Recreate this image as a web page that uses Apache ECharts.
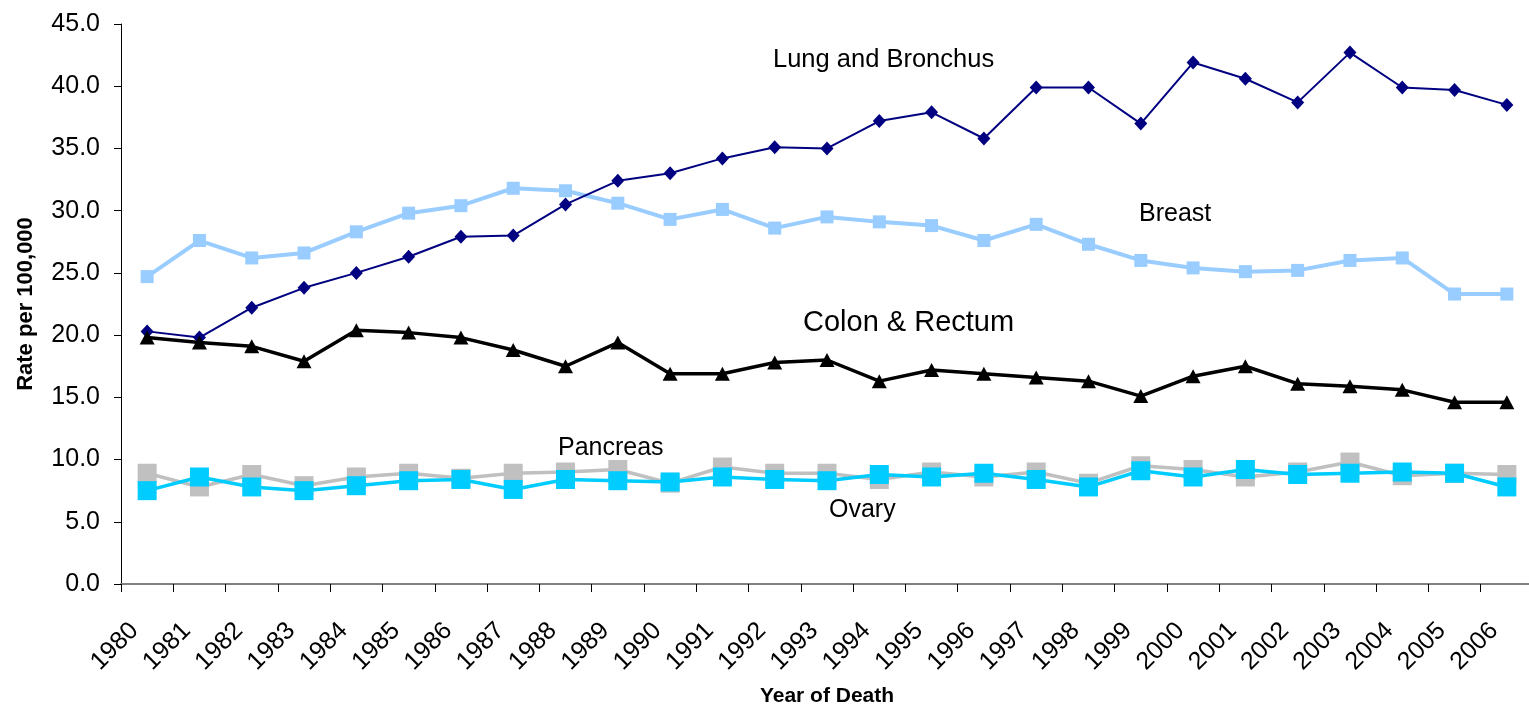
<!DOCTYPE html>
<html>
<head>
<meta charset="utf-8">
<script src="https://cdn.jsdelivr.net/npm/echarts@6/dist/echarts.min.js"></script>
<style>
    html, body { margin: 0; padding: 0; background: #fff; }
    #chart { width: 1529px; height: 706px; }
</style>
</head>
<body>
<div id="chart"></div>
<script>
// data
var years = ['1980', '1981', '1982', '1983', '1984', '1985', '1986', '1987', '1988', '1989',
    '1990', '1991', '1992', '1993', '1994', '1995', '1996', '1997', '1998', '1999',
    '2000', '2001', '2002', '2003', '2004', '2005', '2006'];

var lung = [20.3, 19.8, 22.2, 23.8, 25.0, 26.3, 27.9, 28.0, 30.5, 32.4,
    33.0, 34.2, 35.1, 35.0, 37.2, 37.9, 35.8, 39.9, 39.9, 37.0,
    41.9, 40.6, 38.7, 42.7, 39.9, 39.7, 38.5];

var breast = [24.7, 27.6, 26.2, 26.6, 28.3, 29.8, 30.4, 31.8, 31.6, 30.6,
    29.3, 30.1, 28.6, 29.5, 29.1, 28.8, 27.6, 28.9, 27.3, 26.0,
    25.4, 25.1, 25.2, 26.0, 26.2, 23.3, 23.3];

var colon = [19.8, 19.4, 19.1, 17.9, 20.4, 20.2, 19.8, 18.8, 17.5, 19.4,
    16.9, 16.9, 17.8, 18.0, 16.3, 17.2, 16.9, 16.6, 16.3, 15.1,
    16.7, 17.5, 16.1, 15.9, 15.6, 14.6, 14.6];

var pancreas = [8.9, 7.8, 8.8, 7.9, 8.6, 8.9, 8.5, 8.9, 9.0, 9.2,
    8.1, 9.4, 8.9, 8.9, 8.4, 9.0, 8.6, 9.0, 8.1, 9.5,
    9.2, 8.6, 9.0, 9.8, 8.7, 8.9, 8.8];

var ovary = [7.5, 8.6, 7.8, 7.5, 7.9, 8.3, 8.4, 7.6, 8.4, 8.3,
    8.2, 8.6, 8.4, 8.3, 8.8, 8.6, 8.9, 8.4, 7.8, 9.1,
    8.6, 9.2, 8.8, 8.9, 9.0, 8.9, 7.8];

var yTicks = { min: 0, max: 45, step: 5 };

var seriesNames = ['Lung and Bronchus', 'Breast', 'Colon & Rectum', 'Pancreas', 'Ovary'];

var font = 'Liberation Sans, Arial, sans-serif';

function lineSeries(name, data, color, width, symbol, size, z) {
    return {
        name: name,
        type: 'line',
        data: data,
        z: z,
        symbol: symbol,
        symbolSize: size,
        showSymbol: true,
        lineStyle: { color: color, width: width },
        itemStyle: { color: color, borderWidth: 0 },
        emphasis: { disabled: true }
    };
}

function labelText(text, left, top, size) {
    return {
        type: 'text',
        left: left,
        top: top,
        style: { text: text, font: size + 'px ' + font, fill: '#000' }
    };
}

var myChart = echarts.init(document.getElementById('chart'));
var option = {
    animation: false,
    backgroundColor: '#fff',
    grid: { left: 121, top: 24, width: 1412, height: 560, outerBoundsMode: 'none' },
    xAxis: {
        type: 'category',
        data: years,
        boundaryGap: true,
        name: 'Year of Death',
        nameLocation: 'middle',
        nameGap: 102,
        nameTextStyle: { fontFamily: font, fontSize: 21, fontWeight: 'bold', color: '#000' },
        axisLine: { lineStyle: { color: '#808080', width: 2 } },
        axisTick: { show: true, length: 8, lineStyle: { color: '#000', width: 1 } },
        axisLabel: {
            interval: 0, rotate: 45, margin: 30, padding: [0, 18, 0, 0],
            fontFamily: font, fontSize: 25, color: '#000'
        },
        splitLine: { show: false }
    },
    yAxis: {
        type: 'value',
        min: yTicks.min,
        max: yTicks.max,
        interval: yTicks.step,
        name: 'Rate per 100,000',
        nameLocation: 'middle',
        nameGap: 84,
        nameTextStyle: { fontFamily: font, fontSize: 22, fontWeight: 'bold', color: '#000' },
        axisLine: { show: true, lineStyle: { color: '#000', width: 1 } },
        axisTick: { show: true, length: 7, lineStyle: { color: '#000', width: 1 } },
        axisLabel: {
            margin: 21, fontFamily: font, fontSize: 25, color: '#000',
            formatter: function (v) { return v.toFixed(1); }
        },
        splitLine: { show: false }
    },
    series: [
        lineSeries(seriesNames[1], breast, '#99CCFF', 4, 'rect', 13, 2),
        lineSeries(seriesNames[0], lung, '#000080', 2, 'diamond', [13, 14], 3),
        lineSeries(seriesNames[2], colon, '#000000', 3.5, 'triangle', [15, 14], 4),
        lineSeries(seriesNames[3], pancreas, '#C0C0C0', 3.5, 'rect', 19, 5),
        lineSeries(seriesNames[4], ovary, '#00CCFF', 3.5, 'rect', 19, 6)
    ],
    graphic: [
        labelText(seriesNames[0], 773, 47, 25.5),
        labelText(seriesNames[1], 1139, 202, 25),
        labelText(seriesNames[2], 803, 308, 29),
        labelText(seriesNames[3], 558, 436, 25),
        labelText(seriesNames[4], 829, 498, 25)
    ]
};

option && myChart.setOption(option);
</script>
</body>
</html>
